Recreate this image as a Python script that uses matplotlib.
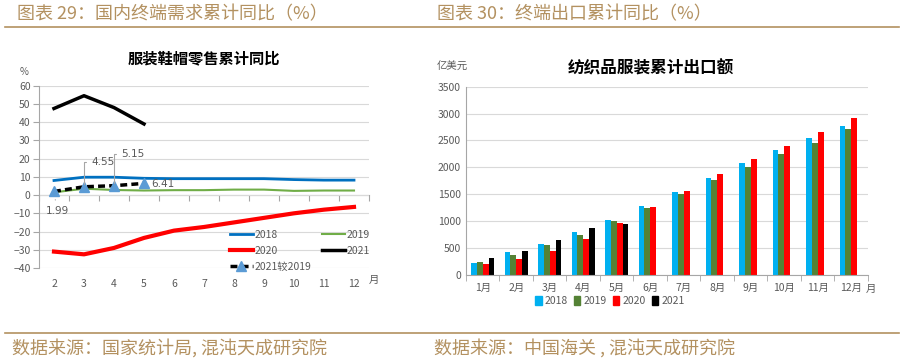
import numpy as np
import matplotlib.pyplot as plt
from matplotlib.lines import Line2D
from matplotlib.patches import Patch

plt.rcParams['font.family'] = ['Noto Sans CJK SC', 'DejaVu Sans']

# left chart: retail sales of apparel/shoes/hats, cumulative yoy (%)
months_l = [2, 3, 4, 5, 6, 7, 8, 9, 10, 11, 12]
y2018 = [8.0, 9.8, 9.8, 9.2, 9.0, 9.0, 9.0, 9.0, 8.5, 8.2, 8.2]
y2019 = [1.5, 3.5, 2.8, 2.5, 2.7, 2.7, 3.0, 3.0, 2.3, 2.5, 2.5]
y2020 = [-31.0, -32.5, -29.0, -23.5, -19.5, -17.5, -15.0, -12.5, -10.0, -8.0, -6.5]
y2021 = [47.5, 54.5, 48.0, 39.0]
y21v19 = [1.99, 4.55, 5.15, 6.41]

# right chart: textile & apparel cumulative exports (100m USD)
months_r = ['1月', '2月', '3月', '4月', '5月', '6月', '7月', '8月', '9月', '10月', '11月', '12月']
ex2018 = [225, 430, 575, 795, 1020, 1285, 1534, 1807, 2075, 2317, 2540, 2770]
ex2019 = [250, 380, 560, 750, 995, 1245, 1503, 1758, 2012, 2242, 2460, 2708]
ex2020 = [200, 295, 455, 670, 960, 1260, 1565, 1870, 2161, 2404, 2652, 2913]
ex2021 = [325, 455, 645, 865, 945]

gold = '#B39160'
gray = '#595959'
grid = '#D9D9D9'

W, H = 904, 362
fig = plt.figure(figsize=(W / 100, H / 100), dpi=100)

def fx(px):
    return px / W

def fy(py):
    return 1 - py / H

# header / footer
fig.text(fx(17), fy(14), '图表 29：国内终端需求累计同比（%）', color=gold, fontsize=13, va='center')
fig.text(fx(437), fy(14), '图表 30：终端出口累计同比（%）', color=gold, fontsize=13, va='center')
fig.add_artist(Line2D([fx(5), fx(899)], [fy(27), fy(27)], color=gold, lw=1.2))
fig.add_artist(Line2D([fx(5), fx(899)], [fy(333), fy(333)], color=gold, lw=1.2))
fig.text(fx(12), fy(348), '数据来源：国家统计局, 混沌天成研究院', color=gold, fontsize=13, va='center')
fig.text(fx(434), fy(348), '数据来源：中国海关 , 混沌天成研究院', color=gold, fontsize=13, va='center')

# ---------------- left chart ----------------
ax = fig.add_axes([fx(39), fy(268), fx(369 - 39), (268 - 85.7) / H])
ax.plot(months_l, y2018, color='#0070C0', lw=2, label='2018')
ax.plot(months_l, y2019, color='#70AD47', lw=1.5, label='2019')
ax.plot(months_l, y2020, color='#FF0000', lw=3, label='2020')
ax.plot(months_l[:4], y2021, color='black', lw=2.5, label='2021')
ax.plot(months_l[:4], y21v19, color='black', lw=2.5, ls=(0, (2, 1.2)),
        marker='^', markersize=7, markerfacecolor='#5B9BD5', markeredgecolor='#5B9BD5',
        label='2021较2019')

ax.set_xlim(1.5, 12.5)
ax.set_ylim(-40, 60)
ax.set_yticks(range(-40, 61, 10))
ax.set_xticks(months_l)
ax.tick_params(axis='both', colors=gray, labelsize=7.5, length=0)
ax.tick_params(axis='x', pad=8)
ax.tick_params(axis='y', length=4, direction='out', color='#A6A6A6', pad=2)
for s in ['top', 'right', 'bottom']:
    ax.spines[s].set_visible(False)
ax.spines['left'].set_color('#A6A6A6')
ax.grid(axis='y', color=grid, lw=0.8)
ax.set_axisbelow(True)
sec = ax.secondary_xaxis(0.4)
sec.set_xticks(np.arange(1.5, 13, 1))
sec.set_xticklabels([])
sec.tick_params(length=4, color='#A6A6A6', direction='out')
sec.spines['bottom'].set_color('#A6A6A6')

ax.set_title('服装鞋帽零售累计同比', fontsize=11, fontweight='bold', pad=0, y=1.12)
fig.text(fx(24), fy(72), '%', color=gray, fontsize=7, ha='center', va='center')
fig.text(fx(374), fy(280), '月', color=gray, fontsize=7.5, ha='center', va='center')

# value labels for 2021 vs 2019
ax.annotate('4.55', xy=(3, 4.55), xytext=(3.25, 18), color=gray, fontsize=7.5,
            va='center', ha='left', family='DejaVu Sans',
            arrowprops=dict(arrowstyle='-', color='#A6A6A6', lw=0.8,
                            connectionstyle='angle,angleA=0,angleB=90,rad=0'))
ax.annotate('5.15', xy=(4, 5.15), xytext=(4.25, 22.4), color=gray, fontsize=7.5,
            va='center', ha='left', family='DejaVu Sans',
            arrowprops=dict(arrowstyle='-', color='#A6A6A6', lw=0.8,
                            connectionstyle='angle,angleA=0,angleB=90,rad=0'))
ax.text(5.25, 6.3, '6.41', color=gray, fontsize=7.5, va='center', ha='left', family='DejaVu Sans')
ax.annotate('1.99', xy=(2, 1.99), xytext=(2.1, -8.5), color=gray, fontsize=7.5,
            va='center', ha='center', family='DejaVu Sans',
            arrowprops=dict(arrowstyle='-', color='#A6A6A6', lw=0.8, shrinkB=6))

h, l = ax.get_legend_handles_labels()
order = [0, 2, 4, 1, 3]
leg = ax.legend([h[i] for i in order], [l[i] for i in order], ncol=2, frameon=False,
                loc='lower left', bbox_to_anchor=(0.565, -0.042), fontsize=7.5,
                handlelength=2.2, columnspacing=1.0, labelspacing=0.55, handletextpad=0.2,
                borderaxespad=0)
for t in leg.get_texts():
    t.set_color(gray)

# ---------------- right chart ----------------
bx = fig.add_axes([fx(466), fy(275), fx(868 - 466), (275 - 86.7) / H])
x = np.arange(len(months_r))
bw = 0.175
series = [(ex2018, '#00B0F0', '2018'), (ex2019, '#548235', '2019'),
          (ex2020, '#FF0000', '2020'), (ex2021, '#000000', '2021')]
for k, (vals, c, lab) in enumerate(series):
    bx.bar(x[:len(vals)] + (k - 1.5) * bw, vals, width=bw, color=c, label=lab)

bx.set_xlim(-0.5, len(months_r) - 0.5)
bx.set_ylim(0, 3500)
bx.set_yticks(range(0, 3501, 500))
bx.set_xticks(x)
bx.set_xticklabels(months_r)
bx.tick_params(axis='both', colors=gray, labelsize=7.5, length=0)
bx.tick_params(axis='x', pad=6)
for s in ['top', 'right']:
    bx.spines[s].set_visible(False)
bx.spines['left'].set_color('#A6A6A6')
bx.spines['bottom'].set_color('#A6A6A6')
bx.set_xticks(np.arange(-0.5, len(months_r), 1), minor=True)
bx.tick_params(axis='x', which='minor', length=4, color='#A6A6A6')
bx.grid(axis='y', color=grid, lw=0.8)
bx.set_axisbelow(True)

fig.text(fx(651), fy(68), '纺织品服装累计出口额', fontsize=12, fontweight='bold', ha='center', va='center')
fig.text(fx(452), fy(67), '亿美元', color=gray, fontsize=7.5, ha='center', va='center')
fig.text(fx(871), fy(289), '月', color=gray, fontsize=7.5, ha='center', va='center')

handles = [Patch(color=c) for _, c, _ in series]
leg2 = fig.legend(handles, [s[2] for s in series], ncol=4, frameon=False,
                  loc='center', bbox_to_anchor=(fx(610), fy(301)), fontsize=7.5,
                  handlelength=0.6, handleheight=0.9, handletextpad=0.3, columnspacing=0.6)
for t in leg2.get_texts():
    t.set_color(gray)

fig.savefig('out.png', dpi=100)
